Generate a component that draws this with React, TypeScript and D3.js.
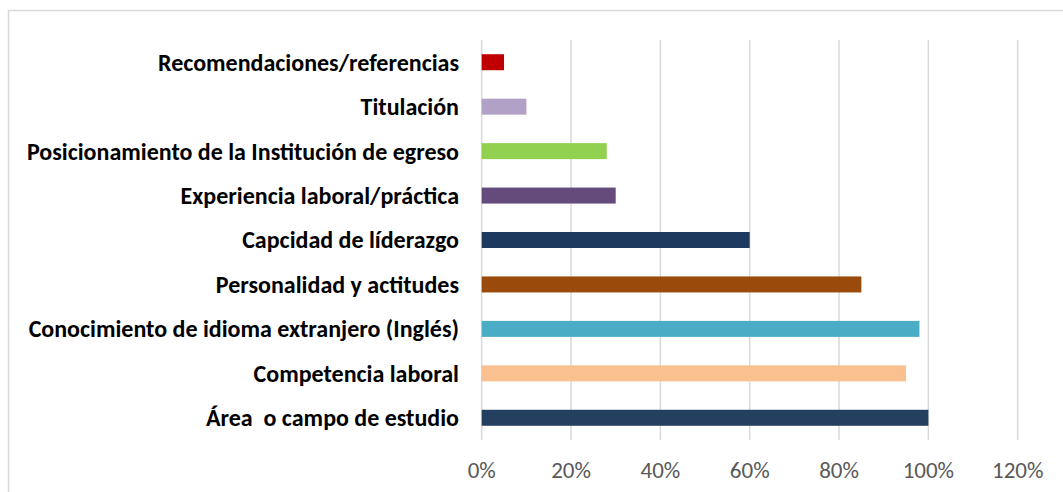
import React from "react";
import * as d3 from "d3";

// categories, bottom to top as in the chart
const categories = [
  "Área  o campo de estudio",
  "Competencia laboral",
  "Conocimiento de idioma extranjero (Inglés)",
  "Personalidad y actitudes",
  "Capcidad de líderazgo",
  "Experiencia laboral/práctica",
  "Posicionamiento de la Institución de egreso",
  "Titulación",
  "Recomendaciones/referencias",
];
const values = [1.0, 0.95, 0.98, 0.85, 0.6, 0.3, 0.28, 0.1, 0.05];
const barColors = [
  "#253F60",
  "#FAC090",
  "#4BACC6",
  "#9A4A0A",
  "#1E3A5F",
  "#644B7C",
  "#92D050",
  "#B2A1C7",
  "#C00000",
];
const xTicks = [0, 0.2, 0.4, 0.6, 0.8, 1.0, 1.2];

export default function App() {
  const width = 1063;
  const height = 492;
  const marginLeft = 481.7;
  const marginRight = 1017.7;
  const marginTop = 40;
  const plotBottom = 440;

  // x (value) scale
  const x = d3.scaleLinear().domain([0, 1.2]).range([marginLeft, marginRight]);

  // y (category) scale, first category at the bottom
  const y = d3
    .scaleBand()
    .domain(categories)
    .range([plotBottom, marginTop])
    .paddingInner(0.64)
    .paddingOuter(0.32);

  const fmt = d3.format(".0%");
  const labelFont = "Carlito, Calibri, Lato, sans-serif";

  return (
    <svg
      width={width}
      height={height}
      style={{ position: "absolute", left: 0, top: 0, background: "#fff" }}
    >
      {/* chart border */}
      <rect x={8.5} y={10.5} width={1080} height={500} fill="#fff" stroke="#D9D9D9" strokeWidth={1.5} />

      {/* gridlines */}
      <g stroke="#D9D9D9" strokeWidth={1.5}>
        {xTicks.map(t => (
          <line key={t} x1={x(t)} x2={x(t)} y1={marginTop} y2={plotBottom} />
        ))}
      </g>

      {/* bars */}
      <g>
        {categories.map((c, i) => (
          <rect
            key={c}
            x={x(0)}
            y={y(c)}
            width={x(values[i]) - x(0)}
            height={y.bandwidth()}
            fill={barColors[i]}
          />
        ))}
      </g>

      {/* category labels */}
      <g fontFamily={labelFont} fontWeight={700} fontSize={24} fill="#000" textAnchor="end">
        {categories.map(c => (
          <text key={c} x={459} y={(y(c) ?? 0) + y.bandwidth() / 2} dy="0.35em" style={{ whiteSpace: "pre" }}>
            {c}
          </text>
        ))}
      </g>

      {/* x tick labels */}
      <g fontFamily={labelFont} fontSize={23} fill="#595959" textAnchor="middle">
        {xTicks.map(t => (
          <text key={t} x={x(t)} y={470} dy="0.35em">
            {fmt(t)}
          </text>
        ))}
      </g>
    </svg>
  );
}
